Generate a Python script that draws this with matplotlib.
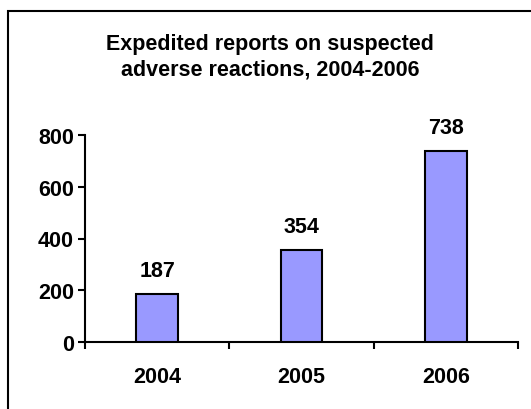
import numpy as np
import matplotlib.pyplot as plt
from matplotlib.patches import Rectangle

years = ["2004", "2005", "2006"]
reports = [187, 354, 738]

plt.rcParams["font.family"] = ["Liberation Sans", "DejaVu Sans"]
plt.rcParams["font.weight"] = "bold"

W, H = 531, 410
fig = plt.figure(figsize=(W / 100, H / 100), dpi=100)

# frame round the whole chart (right and bottom edges run off the picture)
fig.patches.append(Rectangle((8 / W, -0.1), 1.2, 1 - 12 / H + 0.1, transform=fig.transFigure,
                             fill=False, edgecolor="black", linewidth=1.5))

ax = fig.add_axes([85 / W, (H - 343) / H, (518 - 85) / W, (343 - 136) / H])
x = np.arange(len(years))
bars = ax.bar(x, reports, width=0.29, color="#9999FF", edgecolor="black", linewidth=1.5, zorder=3)

for b, v in zip(bars, reports):
    ax.annotate(str(v), (b.get_x() + b.get_width() / 2, v), xytext=(0, 17), textcoords="offset points",
                ha="center", va="center", fontsize=15.5, fontweight="bold")

ax.set_xlim(-0.5, len(years) - 0.5)
ax.set_ylim(0, 800)
ax.set_yticks(range(0, 801, 200))
ax.set_xticks(x)
ax.set_xticklabels(years)
ax.set_xticks(np.arange(-0.5, len(years)), minor=True)
ax.tick_params(axis="x", which="major", length=0, pad=17, labelsize=15.5)
ax.tick_params(axis="x", which="minor", length=5, width=1.5, direction="out")
ax.tick_params(axis="y", length=5, width=1.5, direction="out", labelsize=15.5, pad=3)
for s in ["top", "right"]:
    ax.spines[s].set_visible(False)
for s in ["left", "bottom"]:
    ax.spines[s].set_linewidth(1.5)
ax.patch.set_alpha(0)

fig.text(270 / W, 1 - 57 / H, "Expedited reports on suspected\nadverse reactions, 2004-2006",
         ha="center", va="center", fontsize=15.5, fontweight="bold", linespacing=1.3)

fig.savefig("out.png", dpi=100)
